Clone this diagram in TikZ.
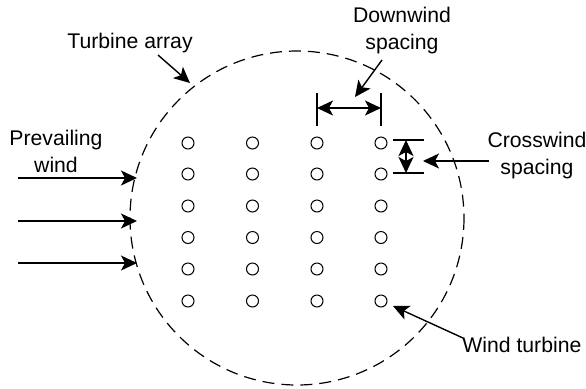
\documentclass[tikz,border=0pt]{standalone}
\usepackage{fontspec}
\setmainfont{Liberation Sans}
\usetikzlibrary{positioning,arrows.meta}

\begin{document}
\begin{tikzpicture}[
  x=0.5pt, y=-0.5pt,
  >={Stealth[length=8pt,width=7.5pt,inset=2pt]},
  lbl/.style={font=\fontsize{10.6}{13.5}\selectfont, align=center, inner sep=0pt},
  turb/.style={draw, circle, minimum size=6pt, inner sep=0pt, line width=0.5pt},
  arr/.style={->, line width=0.7pt},
  tick/.style={line width=0.7pt},
  array/.style={dashed, dash pattern=on 6pt off 3.5pt, line width=0.6pt}
]
  \useasboundingbox (0,0) rectangle (586,388);

  % turbine array boundary
  \draw[array] (297,218) circle [radius=167];

  % turbines
  \foreach \i/\x in {1/188,2/252.5,3/317,4/381}
    \foreach \j/\y in {1/143,2/174,3/206,4/237.5,5/269,6/301}
      \node[turb] (t-\i-\j) at (\x,\y) {};

  % labels
  \node[lbl] (array) at (130,43) {Turbine array};
  \node[lbl] (prev) at (56,151) {Prevailing\\wind};
  \node[lbl] (down) at (402,31) {Downwind\\spacing};
  \node[lbl] (cross) at (537,156) {Crosswind\\spacing};
  \node[lbl, anchor=west] (wt) at (462,345) {Wind turbine};

  % prevailing wind
  \foreach \k/\y in {1/178,2/221,3/263} {
    \coordinate (w\k) at (18,\y);
    \coordinate (e\k) at (137,\y);
    \draw[arr] (w\k) -- (e\k);
  }

  % downwind spacing
  \coordinate (dtl) at (317,93);  \coordinate (dbl) at (317,126);
  \coordinate (dtr) at (381,93);  \coordinate (dbr) at (381,126);
  \coordinate (dl) at (317,108);  \coordinate (dr) at (381,108);
  \draw[tick] (dtl) -- (dbl);
  \draw[tick] (dtr) -- (dbr);
  \draw[arr, <->] (dl) -- (dr);

  % crosswind spacing
  \coordinate (ctl) at (393,140); \coordinate (ctr) at (424,140);
  \coordinate (cbl) at (393,173); \coordinate (cbr) at (424,173);
  \coordinate (ct) at (406,140);  \coordinate (cb) at (406,173);
  \draw[tick] (ctl) -- (ctr);
  \draw[tick] (cbl) -- (cbr);
  \draw[arr, <->] (ct) -- (cb);

  % pointers
  \coordinate (pa) at (158,55);  \coordinate (pa2) at (190,83);
  \coordinate (pd) at (382,60);  \coordinate (pd2) at (355,97);
  \coordinate (pc) at (489,161); \coordinate (pc2) at (423,161);
  \coordinate (pt) at (463,338); \coordinate (pt2) at (393,306);
  \draw[arr] (pa) -- (pa2);
  \draw[arr] (pd) -- (pd2);
  \draw[arr] (pc) -- (pc2);
  \draw[arr] (pt) -- (pt2);
\end{tikzpicture}
\end{document}
